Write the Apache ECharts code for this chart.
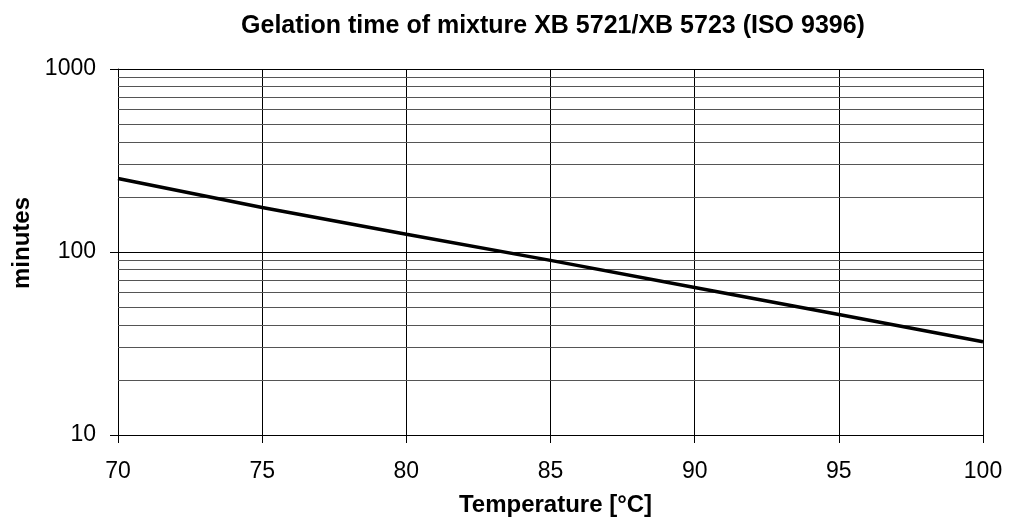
<!DOCTYPE html>
<html>
<head>
<meta charset="utf-8">
<script src="https://cdn.jsdelivr.net/npm/echarts@6/dist/echarts.min.js"></script>
<style>html,body{margin:0;padding:0;background:#fff}#c{width:1017px;height:517px}</style>
</head>
<body>
<div id="c"></div>
<script>
var temperatures = [70, 75, 80, 85, 90, 95, 100];
var minutes = [252, 175, 125, 90, 64, 45.5, 32.3];
var minorGridValues = [20, 30, 40, 50, 60, 70, 80, 90, 200, 300, 400, 500, 600, 700, 800, 900];
var titleText = 'Gelation time of mixture XB 5721/XB 5723 (ISO 9396)';
var xName = 'Temperature [\u00B0C]';
var yName = 'minutes';

var FONT = '"Liberation Sans", Arial, sans-serif';
var chart = echarts.init(document.getElementById('c'));
chart.setOption({
  animation: false,
  backgroundColor: '#fff',
  title: {
    text: titleText, left: 548, top: 9, textAlign: 'center',
    textStyle: {fontFamily: FONT, fontSize: 25, fontWeight: 'bold', color: '#000'}
  },
  grid: {left: 118, right: 34, top: 69, bottom: 82, outerBoundsMode: 'none', containLabel: false},
  xAxis: {
    type: 'value', min: 70, max: 100, interval: 5,
    name: xName, nameLocation: 'middle', nameGap: 58,
    nameTextStyle: {fontFamily: FONT, fontSize: 24, fontWeight: 'bold', color: '#000', padding: [0, 0, 0, 10]},
    axisLine: {lineStyle: {color: '#000', width: 1}},
    axisTick: {show: true, length: 8, lineStyle: {color: '#000'}},
    axisLabel: {fontFamily: FONT, fontSize: 23, color: '#000', margin: 25},
    splitLine: {show: true, lineStyle: {color: '#000', width: 1}}
  },
  yAxis: {
    type: 'log', logBase: 10, min: 10, max: 1000,
    name: yName, nameLocation: 'middle', nameGap: 82, nameRotate: 90,
    nameTextStyle: {fontFamily: FONT, fontSize: 24, fontWeight: 'bold', color: '#000', padding: [0, 0, 0, 18]},
    axisLine: {show: true, lineStyle: {color: '#000', width: 1}},
    axisTick: {show: true, length: 8, lineStyle: {color: '#000'}},
    axisLabel: {fontFamily: FONT, fontSize: 23, color: '#000', margin: 22,
      formatter: function (v) { return String(v); }},
    splitLine: {show: true, lineStyle: {color: '#000', width: 1}}
  },
  series: [{
    type: 'line',
    data: temperatures.map(function (t, i) { return [t, minutes[i]]; }),
    showSymbol: false, symbol: 'none',
    lineStyle: {color: '#000', width: 3.5},
    z: 5,
    markLine: {
      silent: true, symbol: ['none', 'none'], label: {show: false},
      lineStyle: {color: '#555', width: 1, type: 'solid'},
      data: minorGridValues.map(function (v) { return {yAxis: v}; }),
      z: 1
    }
  }]
});
</script>
</body>
</html>
